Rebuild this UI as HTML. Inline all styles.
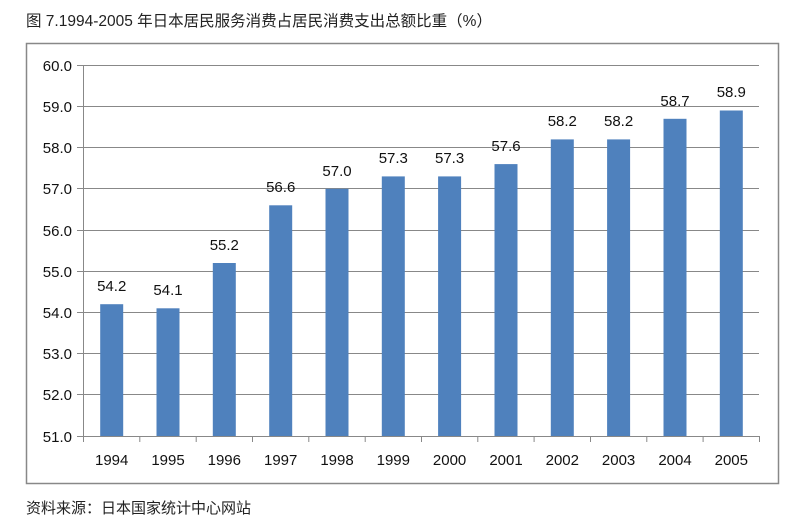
<!DOCTYPE html>
<html><head><meta charset="utf-8"><style>
body{margin:0;background:#fff;width:800px;height:525px;overflow:hidden;font-family:"Liberation Sans","Noto Sans CJK SC",sans-serif;}
</style></head><body>
<svg width="800" height="525" xmlns="http://www.w3.org/2000/svg" font-family="Liberation Sans, Noto Sans CJK SC, sans-serif">
<text x="26" y="26" font-size="15.5" fill="#222">图 7.1994-2005 年日本居民服务消费占居民消费支出总额比重（%）</text>
<rect x="26.5" y="43.5" width="752" height="440" fill="#fff" stroke="#888" stroke-width="1.5"/>
<g stroke="#888" stroke-width="1">
<line x1="77" y1="65.5" x2="759" y2="65.5"/><line x1="77" y1="106.5" x2="759" y2="106.5"/><line x1="77" y1="147.5" x2="759" y2="147.5"/><line x1="77" y1="188.5" x2="759" y2="188.5"/><line x1="77" y1="230.5" x2="759" y2="230.5"/><line x1="77" y1="271.5" x2="759" y2="271.5"/><line x1="77" y1="312.5" x2="759" y2="312.5"/><line x1="77" y1="353.5" x2="759" y2="353.5"/><line x1="77" y1="394.5" x2="759" y2="394.5"/><line x1="77" y1="436.5" x2="759" y2="436.5"/>
<line x1="83.5" y1="65" x2="83.5" y2="442"/>
<line x1="139.8" y1="436" x2="139.8" y2="442"/><line x1="196.2" y1="436" x2="196.2" y2="442"/><line x1="252.5" y1="436" x2="252.5" y2="442"/><line x1="308.8" y1="436" x2="308.8" y2="442"/><line x1="365.2" y1="436" x2="365.2" y2="442"/><line x1="421.5" y1="436" x2="421.5" y2="442"/><line x1="477.8" y1="436" x2="477.8" y2="442"/><line x1="534.1" y1="436" x2="534.1" y2="442"/><line x1="590.5" y1="436" x2="590.5" y2="442"/><line x1="646.8" y1="436" x2="646.8" y2="442"/><line x1="703.1" y1="436" x2="703.1" y2="442"/><line x1="759.5" y1="436" x2="759.5" y2="442"/>
</g>
<g font-size="15" fill="#111" text-anchor="end">
<text x="72" y="71">60.0</text><text x="72" y="112">59.0</text><text x="72" y="153">58.0</text><text x="72" y="194">57.0</text><text x="72" y="236">56.0</text><text x="72" y="277">55.0</text><text x="72" y="318">54.0</text><text x="72" y="359">53.0</text><text x="72" y="400">52.0</text><text x="72" y="442">51.0</text>
</g>
<g fill="#4f81bd">
<rect x="100.2" y="304.2" width="23" height="131.8"/>
<rect x="156.5" y="308.3" width="23" height="127.7"/>
<rect x="212.8" y="263.0" width="23" height="173.0"/>
<rect x="269.2" y="205.3" width="23" height="230.7"/>
<rect x="325.5" y="188.8" width="23" height="247.2"/>
<rect x="381.8" y="176.4" width="23" height="259.6"/>
<rect x="438.1" y="176.4" width="23" height="259.6"/>
<rect x="494.5" y="164.1" width="23" height="271.9"/>
<rect x="550.8" y="139.4" width="23" height="296.6"/>
<rect x="607.1" y="139.4" width="23" height="296.6"/>
<rect x="663.5" y="118.8" width="23" height="317.2"/>
<rect x="719.8" y="110.5" width="23" height="325.5"/>
</g>
<g font-size="15" fill="#111" text-anchor="middle">
<text x="111.7" y="291">54.2</text><text x="168.0" y="295">54.1</text><text x="224.3" y="250">55.2</text><text x="280.7" y="192">56.6</text><text x="337.0" y="176">57.0</text><text x="393.3" y="163">57.3</text><text x="449.6" y="163">57.3</text><text x="506.0" y="151">57.6</text><text x="562.3" y="126">58.2</text><text x="618.6" y="126">58.2</text><text x="675.0" y="106">58.7</text><text x="731.3" y="97">58.9</text>
<text x="111.7" y="465">1994</text><text x="168.0" y="465">1995</text><text x="224.3" y="465">1996</text><text x="280.7" y="465">1997</text><text x="337.0" y="465">1998</text><text x="393.3" y="465">1999</text><text x="449.6" y="465">2000</text><text x="506.0" y="465">2001</text><text x="562.3" y="465">2002</text><text x="618.6" y="465">2003</text><text x="675.0" y="465">2004</text><text x="731.3" y="465">2005</text>
</g>
<text x="26" y="513" font-size="15" fill="#222">资料来源：日本国家统计中心网站</text>
</svg>
</body></html>
